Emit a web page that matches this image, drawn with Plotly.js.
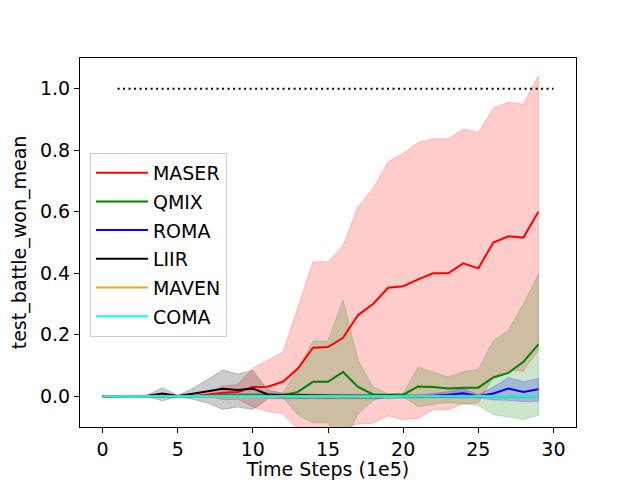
<!DOCTYPE html>
<html>
<head>
<meta charset="utf-8">
<script src="https://cdn.plot.ly/plotly-3.0.1.min.js"></script>
<style>html,body{margin:0;padding:0;background:#fff;}#chart{width:640px;height:480px;}</style>
</head>
<body>
<div id="chart"></div>
<script>
var steps = [0,1,2,3,4,5,6,7,8,9,10,11,12,13,14,15,16,17,18,19,20,21,22,23,24,25,26,27,28,29];

var maserMean  = [0,0,0,0,0,0,0,0.005,0.011,0.014,0.03,0.031,0.047,0.09,0.158,0.16,0.19,0.264,0.30,0.353,0.358,0.38,0.40,0.40,0.432,0.416,0.50,0.52,0.516,0.60];
var maserUpper = [0,0,0,0,0,0,0,0.01,0.033,0.038,0.092,0.117,0.144,0.29,0.437,0.437,0.49,0.617,0.676,0.763,0.79,0.825,0.837,0.837,0.869,0.858,0.937,0.956,0.95,1.042];
var maserLower = [0,0,0,0,0,0,0,0,-0.011,-0.01,-0.035,-0.05,-0.056,-0.11,-0.12,-0.12,-0.11,-0.09,-0.088,-0.064,-0.076,-0.072,-0.044,-0.044,-0.024,-0.022,0.063,0.084,0.082,0.15];

var qmixMean  = [0,0,0,0,0,0,0,0,0.003,0.003,0.005,0.005,0.003,0.014,0.047,0.047,0.079,0.03,0.006,0.005,0.005,0.032,0.03,0.025,0.028,0.028,0.061,0.076,0.112,0.169];
var qmixUpper = [0,0,0,0,0,0,0,0,0.008,0.008,0.01,0.01,0.01,0.09,0.18,0.18,0.313,0.117,0.03,0.008,0.01,0.095,0.08,0.063,0.08,0.088,0.18,0.215,0.30,0.397];
var qmixLower = [0,0,0,0,0,0,0,0,-0.002,-0.002,0,0,-0.004,-0.062,-0.086,-0.086,-0.155,-0.057,-0.013,0.002,-0.002,-0.035,-0.026,-0.02,-0.025,-0.03,-0.06,-0.067,-0.076,-0.062];

var romaMean  = [0,0,0,0,0,0,0,0,0,0,0,0,0,0,0,0,0,0,0,0,0,0,0.002,0.005,0.01,0.0,0.009,0.025,0.014,0.023];
var romaUpper = [0,0,0,0,0,0,0,0,0,0,0,0,0,0,0,0,0,0,0,0,0,0.003,0.008,0.015,0.025,0.005,0.03,0.061,0.047,0.058];
var romaLower = [0,0,0,0,0,0,0,0,0,0,0,0,0,0,0,0,0,0,0,0,0,-0.003,-0.004,-0.005,-0.006,-0.005,-0.012,-0.013,-0.018,-0.016];

var liirMean  = [0,0,0,0.002,0.009,0.001,0.008,0.017,0.024,0.02,0.025,0.006,0.003,0.003,0.002,0.002,0.002,0.002,0.002,0.002,0.001,0.001,0,0,0,0,0,0,0,0];
var liirUpper = [0,0,0,0.005,0.028,0.003,0.025,0.055,0.085,0.072,0.084,0.02,0.01,0.008,0.006,0.006,0.006,0.006,0.006,0.005,0.004,0.004,0.003,0.003,0.002,0,0,0,0,0];
var liirLower = [0,0,0,-0.002,-0.015,-0.001,-0.01,-0.022,-0.043,-0.035,-0.043,-0.008,-0.008,-0.008,-0.008,-0.008,-0.008,-0.008,-0.008,-0.008,-0.006,-0.006,-0.004,-0.004,-0.002,0,0,0,0,0];

var mavenMean = [0,0,0,0,0,0,0,0,0,0,0,0,0,0,0,0,0,0,0,0,0,0,0,0,0,0,0,0,0,0];
var comaMean  = [0,0,0,0,0,0,0,0,0,0,0,0,0,0,0,0,0,0,0,0,0,0,0,0,0,0,0,0,0,0];

var targetX = [1, 30];
var targetY = [1.0, 1.0];

var xTicks = [0,5,10,15,20,25,30];
var yTicks = [0.0,0.2,0.4,0.6,0.8,1.0];

function band(upper, lower, rgb) {
  var xs = steps.concat(steps.slice().reverse());
  var ys = upper.concat(lower.slice().reverse());
  return {
    x: xs, y: ys, type: 'scatter', mode: 'lines', fill: 'toself',
    fillcolor: 'rgba(' + rgb + ',0.2)',
    line: {color: 'rgba(' + rgb + ',0.2)', width: 1},
    hoverinfo: 'skip', showlegend: false
  };
}
function line(y, color, name) {
  return {x: steps, y: y, type: 'scatter', mode: 'lines', name: name,
          legendgroup: name,
          line: {color: color, width: 2}};
}

var traces = [
  band(maserUpper, maserLower, '255,0,0'),
  band(qmixUpper, qmixLower, '0,128,0'),
  band(romaUpper, romaLower, '0,0,255'),
  band(liirUpper, liirLower, '0,0,0'),
  line(maserMean, 'red', 'MASER'),
  line(qmixMean, 'green', 'QMIX'),
  line(romaMean, 'blue', 'ROMA'),
  line(liirMean, 'black', 'LIIR'),
  line(mavenMean, 'orange', 'MAVEN'),
  line(comaMean, 'cyan', 'COMA'),
  {x: targetX, y: targetY, type: 'scatter', mode: 'lines', showlegend: false,
   line: {color: 'black', width: 2, dash: '2px,3.5px'}}
];

var font = {family: 'DejaVu Sans', size: 19, color: '#000'};
var layout = {
  width: 640, height: 480,
  margin: {l: 80, r: 64, t: 58, b: 53, pad: 0},
  paper_bgcolor: '#fff', plot_bgcolor: '#fff',
  font: font,
  showlegend: true,
  xaxis: {
    range: [-1.5, 31.5], tickvals: xTicks, ticks: 'outside', ticklen: 5, tickwidth: 1,
    tickcolor: '#000', showline: true, linecolor: '#000', linewidth: 1, mirror: true,
    showgrid: false, zeroline: false, automargin: false,
    title: {text: 'Time Steps (1e5)', font: font, standoff: 4},
    tickfont: font
  },
  yaxis: {
    range: [-0.1, 1.1], tickvals: yTicks, tickformat: '.1f', ticks: 'outside', ticklen: 5, tickwidth: 1,
    tickcolor: '#000', showline: true, linecolor: '#000', linewidth: 1, mirror: true,
    showgrid: false, zeroline: false, automargin: false,
    title: {text: 'test_battle_won_mean', font: font, standoff: 8},
    tickfont: font
  },
  legend: {
    x: 0.02, y: 0.743, xanchor: 'left', yanchor: 'top',
    bgcolor: 'rgba(255,255,255,0.8)', bordercolor: '#cccccc', borderwidth: 1,
    font: font, tracegroupgap: 1, itemwidth: 52
  }
};

Plotly.newPlot('chart', traces, layout, {staticPlot: true, displayModeBar: false});
</script>
</body>
</html>
